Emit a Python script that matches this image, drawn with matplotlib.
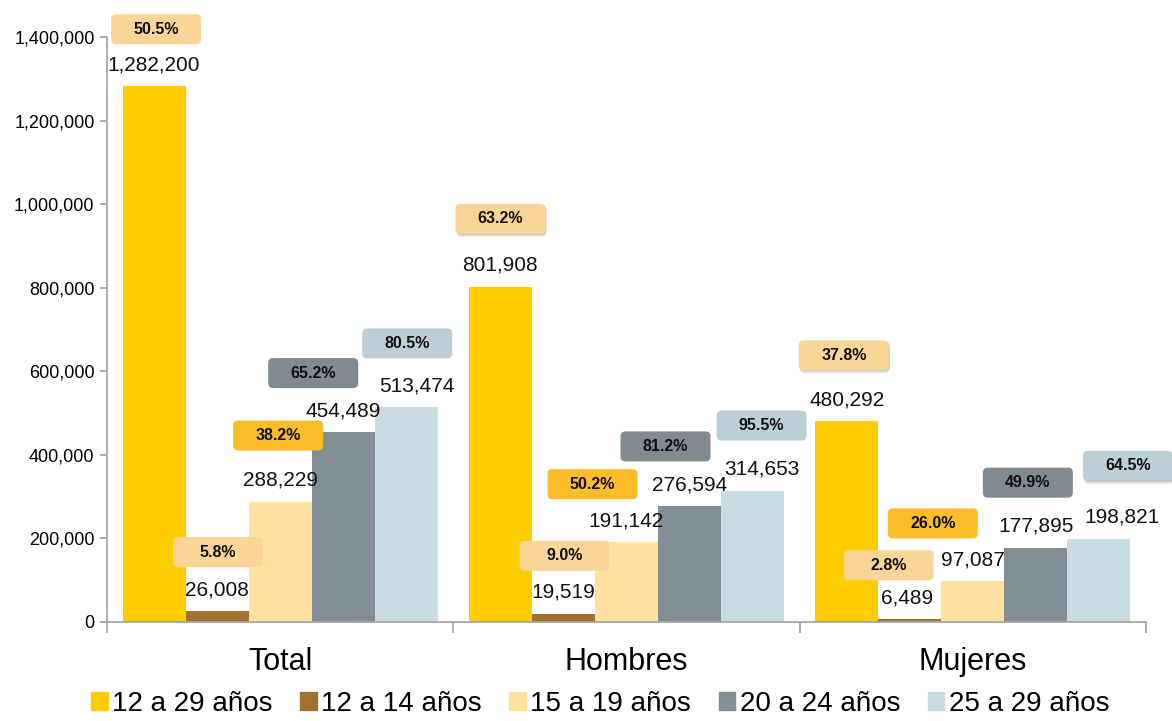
import matplotlib
matplotlib.use("Agg")
import matplotlib.pyplot as plt
from matplotlib.patches import FancyBboxPatch, Rectangle
from matplotlib.transforms import ScaledTranslation
from matplotlib.ticker import FuncFormatter

plt.rcParams['font.family'] = ['Liberation Sans', 'DejaVu Sans']

# ---- data ----
groups = ["Total", "Hombres", "Mujeres"]
series = ["12 a 29 años", "12 a 14 años", "15 a 19 años", "20 a 24 años", "25 a 29 años"]
v_12_29 = [1282200, 801908, 480292]
v_12_14 = [26008, 19519, 6489]
v_15_19 = [288229, 191142, 97087]
v_20_24 = [454489, 276594, 177895]
v_25_29 = [513474, 314653, 198821]
p_12_29 = [50.5, 63.2, 37.8]
p_12_14 = [5.8, 9.0, 2.8]
p_15_19 = [38.2, 50.2, 26.0]
p_20_24 = [65.2, 81.2, 49.9]
p_25_29 = [80.5, 95.5, 64.5]
yticks = [0, 200000, 400000, 600000, 800000, 1000000, 1200000, 1400000]

values = [v_12_29, v_12_14, v_15_19, v_20_24, v_25_29]
percents = [p_12_29, p_12_14, p_15_19, p_20_24, p_25_29]

# ---- styles ----
bar_colors = ["#FFCC00", "#A0712F", "#FFE19F", "#818E95", "#C9DCE3"]
box_colors = ["#F9D597", "#F9D597", "#FBBC2A", "#7F8A91", "#BCCED8"]
# label box offsets (pixels) relative to bar top centre: [series][group]
box_dx = [[2, 0, -3], [1, 1, -21], [-2, -34, -40], [-30, -24, -8], [1, 9, 29]]
box_dy = [[57, 68, 66], [59, 58, 54], [66, 58, 58], [59, 60, 65], [64, 65, 73]]
# value label horizontal offsets (pixels)
val_dx = [[0, 0, 0], [0, 0, -3], [0, 0, 0], [0, 0, 0], [11, 9, 23]]
shadow = [[False, True, True], [False, False, False], [False, False, False],
          [False, False, False], [False, False, True]]

fig = plt.figure(figsize=(11.72, 7.21), dpi=100)
ax = fig.add_axes([107/1172, 99/721, (1146-107)/1172, (684-99)/721])

bw = 0.182
ax.set_xlim(-0.5, 2.5)
ax.set_ylim(0, 1400000)

handles = []
for i, (vals, col) in enumerate(zip(values, bar_colors)):
    xs = [g + (i - 2) * bw for g in range(len(groups))]
    ax.bar(xs, vals, width=bw, color=col, linewidth=0, zorder=2)
    handles.append(Rectangle((0, 0), 1, 1, color=col))
    for j, (x, v) in enumerate(zip(xs, vals)):
        tr = fig.dpi_scale_trans + ScaledTranslation(x, v, ax.transData)
        ax.text(val_dx[i][j] / 100, 0.16, f"{v:,}", transform=tr, ha='center', va='baseline',
                fontsize=15, color='#111111', zorder=5)
        cx = box_dx[i][j] / 100
        cy = box_dy[i][j] / 100
        if shadow[i][j]:
            for k, a in enumerate([0.18, 0.12, 0.07]):
                sh = FancyBboxPatch((cx - 0.45 + 0.01, cy - 0.15 - 0.01 - 0.012 * k), 0.9, 0.3,
                                    boxstyle="round,pad=0,rounding_size=0.05",
                                    transform=tr, facecolor='#606060', edgecolor='none',
                                    alpha=a, clip_on=False, zorder=3)
                ax.add_patch(sh)
        box = FancyBboxPatch((cx - 0.45, cy - 0.15), 0.9, 0.3,
                             boxstyle="round,pad=0,rounding_size=0.05",
                             transform=tr, facecolor=box_colors[i], edgecolor='none',
                             clip_on=False, zorder=4)
        ax.add_patch(box)
        ax.text(cx, cy, f"{percents[i][j]:.1f}%", transform=tr, ha='center', va='center',
                fontsize=11.5, fontweight='bold', color='#111111', zorder=5)

# axes styling
for s in ['top', 'right']:
    ax.spines[s].set_visible(False)
for s in ['left', 'bottom']:
    ax.spines[s].set_color('#A6A6A6')
    ax.spines[s].set_linewidth(1.3)
ax.set_yticks(yticks)
ax.yaxis.set_major_formatter(FuncFormatter(lambda v, p: f"{int(v):,}"))
ax.tick_params(axis='y', length=5, width=1.3, color='#A6A6A6', labelsize=13, pad=4)

ax.set_xticks(range(len(groups)))
ax.set_xticklabels(groups, fontsize=22)
ax.set_xticks([-0.5, 0.5, 1.5, 2.5], minor=True)
ax.tick_params(axis='x', which='major', length=0, pad=18)
ax.tick_params(axis='x', which='minor', length=8, width=1.3, color='#A6A6A6')

fig.legend(handles, series, loc='lower center', bbox_to_anchor=(0.512, -0.029), ncol=5,
           frameon=False, fontsize=20, handlelength=0.6, handleheight=0.6,
           handletextpad=0.15, columnspacing=1.0)

fig.savefig("out.png", dpi=100)
